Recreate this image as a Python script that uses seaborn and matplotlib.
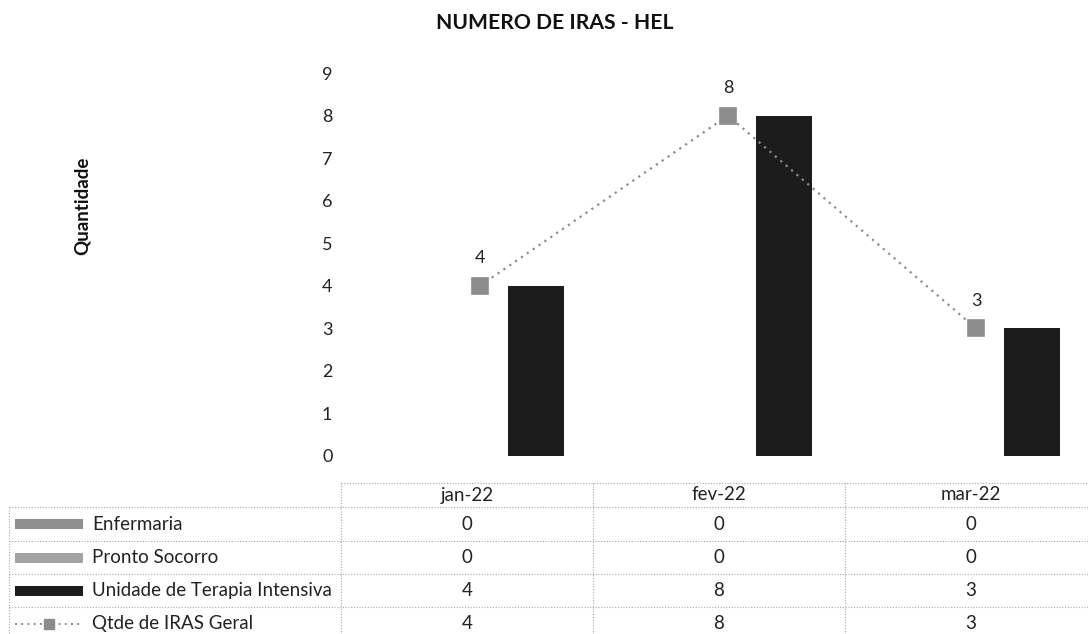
import numpy as np
import pandas as pd
import matplotlib
matplotlib.use("Agg")
import matplotlib.pyplot as plt
import seaborn as sns

# data
months = ["jan-22", "fev-22", "mar-22"]
series_names = ["Enfermaria", "Pronto Socorro", "Unidade de Terapia Intensiva"]
enfermaria = [0, 0, 0]
pronto_socorro = [0, 0, 0]
uti = [4, 8, 3]
total_label = "Qtde de IRAS Geral"
total = [4, 8, 3]
y_ticks = list(range(0, 10))

bar_colors = ["#8f8f8f", "#a3a3a3", "#1c1c1c"]
line_color = "#8c8c8c"

sns.set_theme(style="white")
plt.rcParams["font.family"] = ["Lato", "DejaVu Sans"]

df = pd.DataFrame({
    "mes": months * 3,
    "serie": np.repeat(series_names, len(months)),
    "valor": enfermaria + pronto_socorro + uti,
})

W, H = 1088, 634
fig = plt.figure(figsize=(W / 100, H / 100), dpi=100)

# plot area in pixel terms: x 356..1100, y 73..456
ax = fig.add_axes([356 / W, (H - 456) / H, 744 / W, (456 - 73) / H])
sns.barplot(data=df, x="mes", y="valor", hue="serie", hue_order=series_names,
            palette=bar_colors, width=0.68, gap=0, legend=False, ax=ax,
            edgecolor="none", linewidth=0)
sns.pointplot(x=months, y=total, color=line_color, markers="s",
              linestyles=(0, (1, 2.2)), markersize=12, linewidth=1.6, ax=ax)
for i, v in enumerate(total):
    ax.annotate(str(v), (i, v), xytext=(0, 14), textcoords="offset points",
                ha="center", va="bottom", fontsize=13, color="#222222")

ax.set_xlim(-0.5, len(months) - 0.5)
ax.set_ylim(0, 9)
ax.set_yticks(y_ticks)
ax.tick_params(axis="y", length=0, pad=17, labelsize=13, colors="#222222")
ax.set_xticks([])
ax.set_xlabel("")
ax.set_ylabel("")
for s in ax.spines.values():
    s.set_visible(False)

fig.text(555 / W, 1 - 23 / H, "NUMERO DE IRAS - HEL", ha="center", va="center",
         fontsize=15.2, fontweight="bold", color="#111111")
fig.text(82 / W, 1 - 206 / H, "Quantidade", rotation=90, ha="center", va="center",
         fontsize=13.5, fontweight="bold", color="#111111")

# data table under the chart, drawn in pixel coordinates
tb = fig.add_axes([0, 0, 1, 1], facecolor="none")
tb.set_xlim(0, W)
tb.set_ylim(H, 0)
tb.axis("off")

col_edges = [341, 593, 845, 1097]
row_edges = [483, 507, 541, 574, 607, 640]
grid_kw = dict(color="#a8a8a8", lw=0.8, ls=(0, (1, 1.5)))
tb.plot([col_edges[0], W], [row_edges[0]] * 2, **grid_kw)
for y in row_edges[1:-1]:
    tb.plot([9, W], [y, y], **grid_kw)
tb.plot([9, 9], [row_edges[1], H], **grid_kw)
for x in col_edges[:-1]:
    tb.plot([x, x], [row_edges[0], H], **grid_kw)

col_centers = [(a + b) / 2 for a, b in zip(col_edges[:-1], col_edges[1:])]
for c, m in zip(col_centers, months):
    tb.text(c, (row_edges[0] + row_edges[1]) / 2, m, ha="center", va="center",
            fontsize=13.5, color="#222222")

rows = [(series_names[0], enfermaria), (series_names[1], pronto_socorro),
        (series_names[2], uti), (total_label, total)]
for r, (name, vals) in enumerate(rows):
    yc = (row_edges[r + 1] + row_edges[r + 2]) / 2
    if r < 3:
        tb.add_patch(plt.Rectangle((15, yc - 5), 68, 10, color=bar_colors[r], lw=0))
    else:
        tb.plot([15, 83], [yc, yc], color=line_color, lw=1.4, ls=(0, (1, 2.2)))
        tb.plot([49], [yc], marker="s", color=line_color, markersize=7)
    tb.text(92, yc, name, ha="left", va="center", fontsize=13.5, color="#222222")
    for c, v in zip(col_centers, vals):
        tb.text(c, yc, str(v), ha="center", va="center", fontsize=13.5, color="#222222")

fig.savefig("out.png", dpi=100)
